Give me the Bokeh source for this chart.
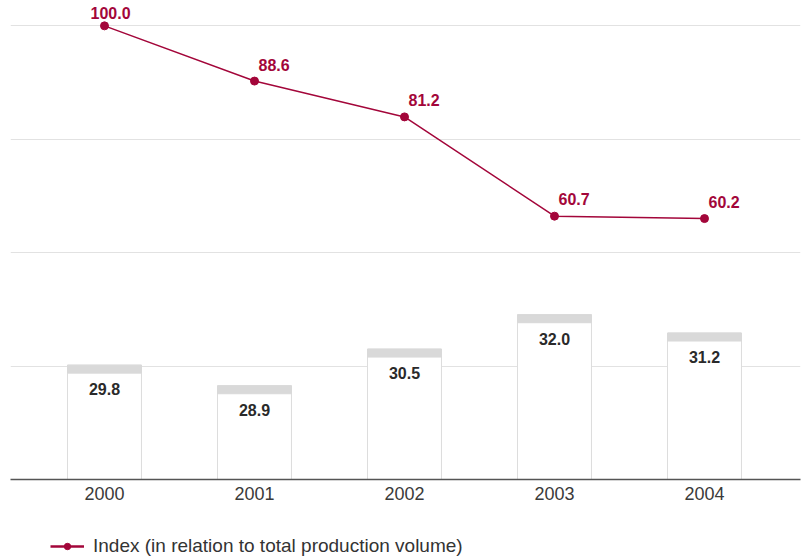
from bokeh.plotting import figure
from bokeh.layouts import column
from bokeh.models import (Range1d, FixedTicker, ColumnDataSource,
                          Legend, LegendItem)
from bokeh.core.properties import value
from bokeh.embed import file_html
from bokeh.resources import INLINE

years = [2000, 2001, 2002, 2003, 2004]
volume = [29.8, 28.9, 30.5, 32.0, 31.2]
index_vals = [100.0, 88.6, 81.2, 60.7, 60.2]
year_labels = ["2000", "2001", "2002", "2003", "2004"]
legend_label = "Index (in relation to total production volume)"

RED = "#a3063a"
FONT = "Liberation Sans"

FRAME_H = 479
vol_start = 24.81
vol_end = vol_start + FRAME_H / 22.92
idx_start = 6.31
idx_end = 105.24
cap_units = 8 / 22.92

p = figure(width=804, height=FRAME_H + 32, output_backend="svg", toolbar_location=None,
           x_range=Range1d(2000 - 94 / 150, 2000 - 94 / 150 + 790 / 150),
           y_range=Range1d(0, FRAME_H / 113.5),
           min_border_left=10, min_border_right=4, min_border_top=0,
           min_border_bottom=32)
p.extra_y_ranges = {"vol": Range1d(vol_start, vol_end),
                    "idx": Range1d(idx_start, idx_end)}
p.outline_line_color = None

p.yaxis.visible = False
p.ygrid.ticker = FixedTicker(ticks=[1, 2, 3, 4])
p.ygrid.grid_line_color = "#e2e2e2"
p.ygrid.grid_line_width = 1
p.xgrid.visible = False

ax = p.xaxis[0]
ax.ticker = FixedTicker(ticks=years)
ax.major_label_overrides = {y: l for y, l in zip(years, year_labels)}
ax.major_tick_line_color = None
ax.minor_tick_line_color = None
ax.axis_line_color = "#555555"
ax.axis_line_width = 1.5
ax.major_label_text_font = FONT
ax.major_label_text_font_size = "18px"
ax.major_label_text_color = "#3a3a3a"
ax.major_label_standoff = 1

src = ColumnDataSource(dict(
    x=years, vol=volume, idx=index_vals,
    cap_bottom=[v - cap_units for v in volume],
    vol_lbl=[f"{v:.1f}" for v in volume],
    idx_lbl=[f"{v:.1f}" for v in index_vals],
    lx=[-14, 4, 4, 4, 4],
    ly=[-13, -16, -17, -17, -17],
))

p.vbar(x="x", top="vol", bottom=vol_start, width=0.493, source=src,
       y_range_name="vol", fill_color="white", line_color="#dddddd",
       line_width=1)
p.vbar(x="x", top="vol", bottom="cap_bottom", width=0.493, source=src,
       y_range_name="vol", fill_color="#d9d9d9", line_color="#d9d9d9",
       line_width=1)
p.text(x="x", y="vol", text="vol_lbl", source=src, y_range_name="vol",
       text_align="center", text_baseline="middle", y_offset=24,
       text_font=value(FONT), text_font_size="16px", text_color="#2a2a2a",
       text_font_style="bold")

p.line(x="x", y="idx", source=src, y_range_name="idx",
       line_color=RED, line_width=1.5)
p.scatter(x="x", y="idx", source=src, y_range_name="idx",
          size=8, fill_color=RED, line_color=RED)
p.text(x="x", y="idx", text="idx_lbl", source=src, y_range_name="idx",
       x_offset="lx", y_offset="ly",
       text_align="left", text_baseline="middle",
       text_font=value(FONT), text_font_size="16px", text_color=RED,
       text_font_style="bold")

# legend strip
q = figure(width=804, height=558 - (FRAME_H + 32), output_backend="svg",
           toolbar_location=None,
           x_range=Range1d(0, 1), y_range=Range1d(0, 1),
           min_border_left=0, min_border_right=0, min_border_top=0,
           min_border_bottom=0)
q.axis.visible = False
q.grid.visible = False
q.outline_line_color = None
hidden = ColumnDataSource(dict(x=[-10, -9], y=[-10, -10]))
ln = q.line(x="x", y="y", source=hidden, line_color=RED, line_width=2.5)
sc = q.scatter(x="x", y="y", source=hidden, size=7, fill_color=RED, line_color=RED)
legend = Legend(items=[LegendItem(label=legend_label, renderers=[ln, sc])],
                location=(40, 1), orientation="horizontal",
                glyph_width=34, glyph_height=16,
                label_text_font=FONT, label_text_font_size="19px",
                label_text_color="#333333",
                border_line_color=None, background_fill_color=None,
                background_fill_alpha=0,
                margin=0, padding=0, label_standoff=9)
q.add_layout(legend)

layout = column(p, q, spacing=0)
open("out.html", "w").write(file_html(layout, INLINE))
